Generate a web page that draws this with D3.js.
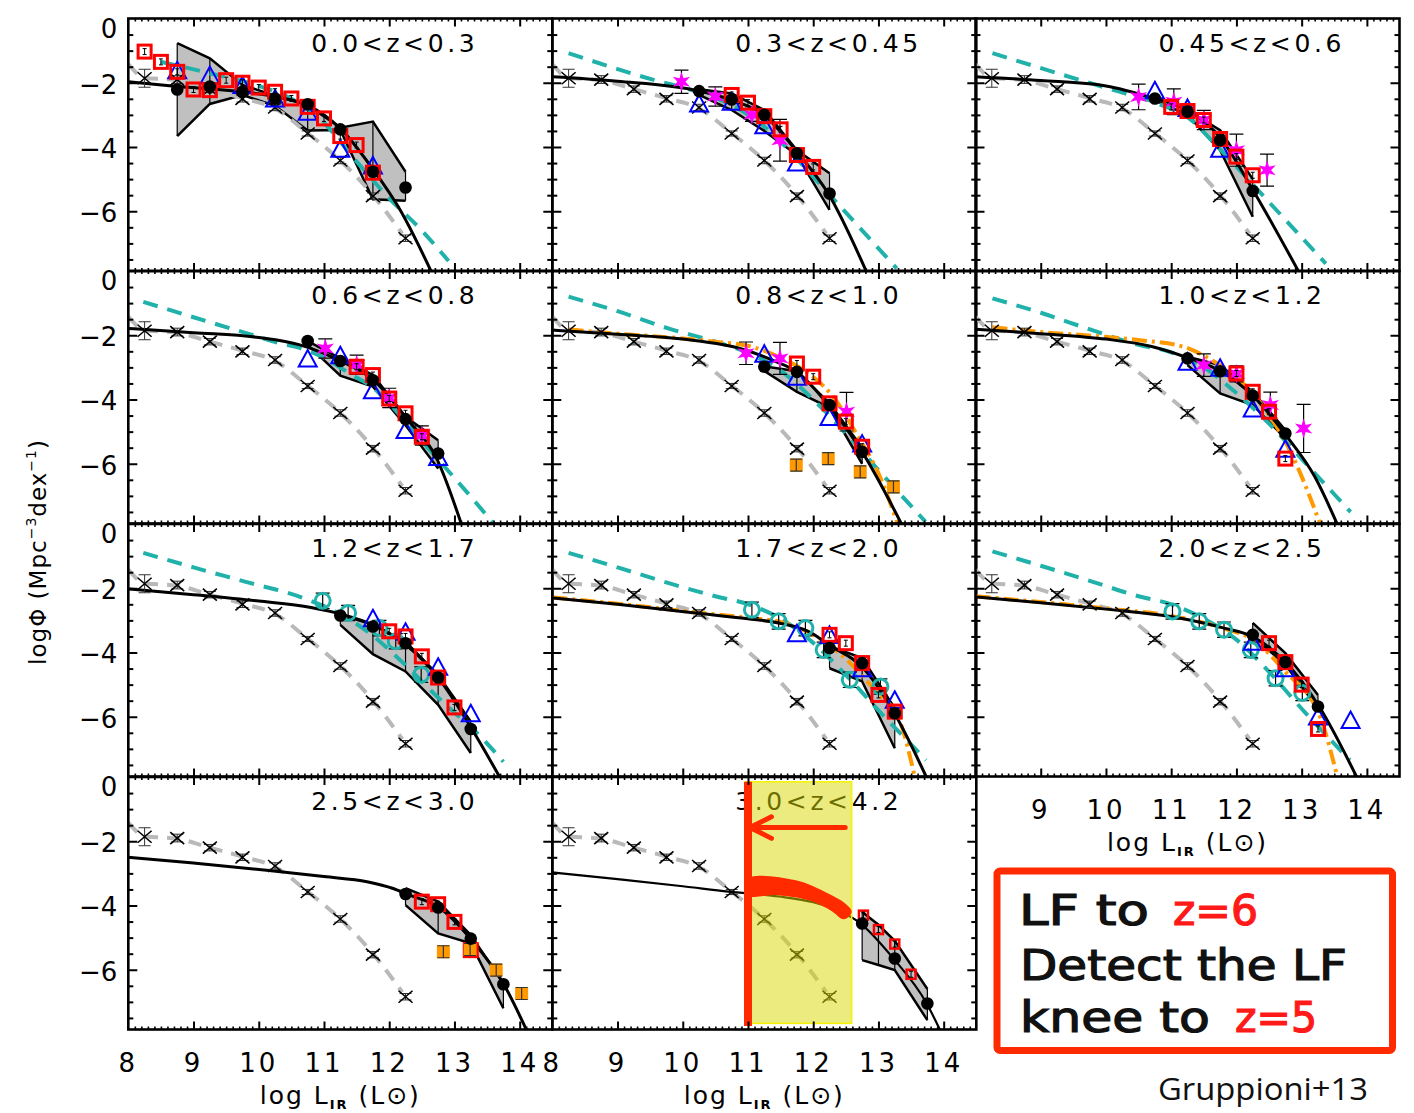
<!DOCTYPE html>
<html><head><meta charset="utf-8">
<script src="https://cdn.jsdelivr.net/npm/d3@7"></script>
<style>body{margin:0;background:#fff}</style>
</head><body><svg id="c" width="1414" height="1113"></svg>
<script>
// ---------------- DATA ----------------
const zLabels=["0.0<z<0.3","0.3<z<0.45","0.45<z<0.6","0.6<z<0.8","0.8<z<1.0","1.0<z<1.2","1.2<z<1.7","1.7<z<2.0","2.0<z<2.5","2.5<z<3.0","3.0<z<4.2"];
const xTickLabels=[8,9,10,11,12,13,14];
const yTickLabels=[0,-2,-4,-6];
// local (z~0) reference LF: crosses + grey dashed model
const localX=[8.25,8.75,9.25,9.75,10.25,10.75,11.25,11.75,12.25];
const localY=[-1.86,-1.9,-2.2,-2.5,-2.77,-3.58,-4.42,-5.53,-6.84];
const localErr=[0.28,0.12,0.1,0.1,0.1,0.08,0.1,0.1,0.1];
const localModel=[[8.0,-1.42],[8.25,-1.84],[8.75,-1.92],[9.25,-2.2],[9.75,-2.48],[10.25,-2.8],[10.75,-3.57],[11.25,-4.42],[11.75,-5.5],[12.2,-6.7]];
// black solid model per panel
const blackModel=[
 [[8.0,-1.97],[8.75,-2.12],[9.75,-2.28],[10.3,-2.45],[10.75,-2.7],[11.25,-3.42],[11.76,-4.72],[12.17,-5.97],[12.65,-7.9]],
 [[8.0,-1.81],[9.0,-1.95],[10.24,-2.25],[10.75,-2.54],[11.24,-3.0],[11.77,-4.2],[12.23,-5.45],[12.82,-7.9]],
 [[8.0,-1.81],[9.0,-1.93],[10.0,-2.1],[10.69,-2.46],[11.25,-2.85],[11.76,-3.73],[12.27,-5.4],[12.96,-7.9]],
 [[8.0,-1.79],[9.0,-1.92],[10.0,-2.07],[10.63,-2.3],[11.25,-2.8],[11.76,-3.4],[12.27,-4.6],[12.73,-5.85],[13.11,-7.9]],
 [[8.0,-1.84],[9.0,-1.97],[10.0,-2.12],[10.96,-2.46],[11.4,-2.8],[11.75,-3.14],[12.23,-4.17],[12.75,-5.63],[13.36,-7.9]],
 [[8.0,-1.81],[9.0,-1.95],[10.0,-2.12],[10.7,-2.35],[11.25,-2.7],[11.76,-3.12],[12.27,-3.92],[12.75,-5.09],[13.2,-6.4],[13.55,-7.9]],
 [[8.0,-2.02],[9.0,-2.2],[10.0,-2.4],[10.8,-2.6],[11.25,-2.8],[11.76,-3.15],[12.26,-3.77],[12.75,-4.78],[13.29,-6.46],[13.7,-7.9]],
 [[8.0,-2.3],[9.0,-2.5],[10.19,-2.77],[11.0,-2.95],[11.47,-3.08],[11.98,-3.4],[12.23,-3.75],[12.75,-4.45],[13.23,-5.84],[13.74,-7.9]],
 [[8.0,-2.27],[9.0,-2.45],[10.0,-2.65],[10.99,-2.88],[11.81,-3.24],[12.24,-3.5],[12.75,-4.3],[13.27,-5.69],[13.85,-7.9]],
 [[8.0,-2.5],[9.0,-2.68],[10.12,-2.9],[11.0,-3.1],[11.66,-3.26],[12.06,-3.47],[12.3,-3.67],[12.75,-4.04],[13.24,-5.02],[13.75,-6.43],[14.11,-7.9]],
 [[8.0,-2.97],[9.0,-3.18],[10.0,-3.4],[10.7,-3.57],[11.47,-3.72],[12.0,-3.9],[12.24,-4.05],[12.69,-4.5],[13.23,-5.65],[13.74,-7.05],[13.95,-7.9]]
];
// teal dashed model per panel
const tealModel=[
 [[8.5,-1.35],[9.2,-1.68],[10.0,-2.1],[10.5,-2.5],[10.9,-3.05],[11.5,-4.45],[12.0,-5.6],[12.5,-6.6],[12.91,-7.55]],
 [[8.25,-1.08],[9.57,-1.92],[10.14,-2.23],[10.8,-2.75],[11.3,-3.45],[11.83,-4.55],[12.28,-5.55],[13.28,-7.78]],
 [[8.26,-1.08],[9.61,-1.92],[10.12,-2.23],[10.8,-2.65],[11.3,-3.15],[11.64,-3.84],[12.52,-5.76],[13.37,-7.63]],
 [[8.23,-0.96],[9.0,-1.44],[9.82,-1.94],[10.33,-2.25],[10.6,-2.38],[11.0,-2.7],[11.4,-3.2],[11.76,-3.65],[12.5,-5.3],[13.24,-7.0],[13.6,-7.86]],
 [[8.25,-0.8],[9.0,-1.25],[9.8,-1.8],[10.5,-2.2],[11.0,-2.55],[11.5,-3.1],[12.0,-4.0],[12.5,-5.05],[13.0,-6.2],[13.72,-7.8]],
 [[8.26,-0.85],[9.0,-1.3],[9.8,-1.85],[10.5,-2.3],[10.95,-2.5],[11.5,-3.0],[12.0,-3.8],[12.5,-4.75],[13.0,-5.85],[13.75,-7.5]],
 [[8.23,-0.9],[9.0,-1.35],[9.8,-1.8],[10.68,-2.3],[11.2,-2.75],[11.7,-3.4],[12.2,-4.3],[12.8,-5.5],[13.44,-6.7],[13.75,-7.4]],
 [[8.25,-0.9],[9.0,-1.35],[9.8,-1.85],[10.5,-2.25],[11.02,-2.51],[11.5,-2.95],[12.0,-3.7],[12.5,-4.7],[13.0,-5.8],[13.73,-7.35]],
 [[8.26,-0.85],[9.0,-1.3],[9.8,-1.8],[10.5,-2.25],[11.0,-2.5],[11.5,-2.95],[12.0,-3.6],[12.5,-4.6],[13.0,-5.75],[13.74,-7.35]],
 null,null
];
// orange dash-dot model
const orangeModel=[null,null,null,null,
 [[8.25,-1.82],[9.0,-1.95],[10.0,-2.1],[10.5,-2.2],[11.06,-2.36],[11.5,-2.7],[12.0,-3.3],[12.3,-3.9],[12.7,-5.2],[13.0,-6.3],[13.3,-7.9]],
 [[8.26,-1.75],[9.0,-1.9],[10.0,-2.05],[10.5,-2.15],[11.19,-2.36],[11.6,-2.75],[12.0,-3.3],[12.4,-4.2],[12.83,-5.63],[13.29,-7.9]],
 null,
 [[8.0,-2.28],[9.0,-2.48],[10.19,-2.75],[11.0,-2.92],[11.5,-3.05],[12.0,-3.45],[12.5,-4.2],[13.0,-5.3],[13.31,-6.04],[13.56,-7.9]],
 [[8.0,-2.25],[9.0,-2.43],[10.0,-2.63],[11.0,-2.86],[11.8,-3.25],[12.25,-3.6],[12.75,-4.6],[13.29,-6.04],[13.55,-7.9]],
 null,null
];
// grey uncertainty band (x, upper, lower)
const bandX=[
 [8.75,9.25,9.75,10.25,10.75,11.25,11.75,12.25],
 [10.25,10.75,11.25,11.75,12.25],
 [10.75,11.25,11.75,12.25],
 [10.75,11.25,11.75,12.25,12.75],
 [11.2,11.75,12.25,12.75],
 [11.25,11.75,12.25,12.75],
 [11.25,11.75,12.25,12.75,13.25],
 [12.25,12.75,13.25],
 [12.25,12.75,13.25],
 [12.25,12.75,13.25,13.75],
 [12.75,13.0,13.25,13.75]
];
const bandHi=[
 [-0.77,-1.24,-2.07,-2.4,-2.7,-3.4,-3.21,-4.77],
 [-2.2,-2.33,-2.85,-4.1,-4.82],
 [-2.45,-2.85,-3.48,-5.0],
 [-2.18,-2.72,-3.24,-4.54,-5.27],
 [-2.95,-3.12,-4.12,-5.5],
 [-2.67,-2.93,-3.76,-4.95],
 [-2.82,-3.14,-3.66,-4.7,-6.15],
 [-3.8,-4.17,-5.73],
 [-3.08,-4.02,-5.32],
 [-3.46,-3.88,-4.92,-6.43],
 [-4.2,-4.6,-5.1,-6.6]
];
const bandLo=[
 [-3.66,-2.66,-2.38,-2.72,-3.49,-3.47,-5.63,-5.67],
 [-2.38,-2.85,-3.5,-4.25,-5.96],
 [-2.55,-3.0,-4.1,-6.17],
 [-2.3,-3.26,-3.6,-4.8,-6.15],
 [-3.05,-3.76,-4.25,-6.0],
 [-2.93,-3.81,-4.17,-5.21],
 [-3.14,-4.05,-4.59,-5.63,-7.13],
 [-4.49,-4.9,-6.98],
 [-3.5,-4.38,-5.74],
 [-3.99,-4.87,-5.18,-7.2],
 [-5.7,-5.85,-6.01,-7.57]
];
const blackDots=[
 [[8.75,-2.21],[9.25,-2.12],[9.75,-2.28],[10.25,-2.49],[10.75,-2.67],[11.25,-3.45],[11.75,-4.77],[12.25,-5.26]],
 [[10.25,-2.26],[10.75,-2.52],[11.25,-3.0],[11.75,-4.2],[12.25,-5.45]],
 [[10.75,-2.49],[11.25,-2.9],[11.75,-3.79],[12.25,-5.37]],
 [[10.75,-2.18],[11.25,-2.8],[11.75,-3.4],[12.25,-4.61],[12.75,-5.68]],
 [[11.25,-2.98],[11.75,-3.14],[12.25,-4.17],[12.75,-5.63]],
 [[11.25,-2.72],[11.75,-3.12],[12.25,-3.88],[12.75,-5.06]],
 [[11.25,-2.85],[11.75,-3.19],[12.25,-3.71],[12.75,-4.78],[13.25,-6.38]],
 [[12.25,-3.86],[12.75,-4.33],[13.25,-5.89]],
 [[12.25,-3.45],[12.75,-4.3],[13.25,-5.68]],
 [[12.25,-3.64],[12.75,-4.06],[13.25,-5.03],[13.75,-6.45]],
 [[12.75,-4.56],[13.25,-5.65],[13.75,-7.05]]
];
const redSquares=[
 [[8.25,-1.03],[8.5,-1.35],[8.75,-1.66],[9.0,-2.21],[9.25,-2.23],[9.5,-1.92],[9.75,-2.0],[10.0,-2.15],[10.25,-2.28],[10.5,-2.49],[10.75,-2.75],[11.0,-3.11],[11.25,-3.66],[11.5,-3.94],[11.75,-4.8]],
 [[10.75,-2.38],[11.0,-2.62],[11.25,-3.04],[11.5,-3.45],[11.75,-4.25],[12.0,-4.62]],
 [[11.0,-2.75],[11.25,-2.88],[11.5,-3.16],[11.75,-3.75],[12.0,-4.3],[12.25,-4.88]],
 [[11.5,-2.98],[11.75,-3.24],[12.0,-3.97],[12.25,-4.43],[12.5,-5.16]],
 [[11.75,-2.88],[12.0,-3.29],[12.25,-4.12],[12.5,-4.69],[12.75,-5.47]],
 [[12.0,-3.19],[12.25,-3.76],[12.5,-4.38],[12.75,-5.84]],
 [[12.0,-3.34],[12.25,-3.5],[12.5,-4.12],[12.75,-4.78],[13.0,-5.71]],
 [[12.25,-3.45],[12.5,-3.71],[12.75,-4.33],[13.0,-5.32],[13.25,-5.84]],
 [[12.5,-3.71],[12.75,-4.3],[13.0,-5.0],[13.25,-6.38]],
 [[12.5,-3.88],[12.75,-3.96],[13.0,-4.51],[13.25,-5.39]],
 [[12.77,-4.3],[13.0,-4.75],[13.25,-5.2],[13.5,-6.14]]
];
const blueTriangles=[
 [[8.75,-1.66],[9.25,-1.81],[9.75,-2.12],[10.25,-2.54],[10.75,-2.95],[11.25,-4.1],[11.75,-4.62]],
 [[10.25,-2.69],[10.75,-2.64],[11.25,-3.37],[11.75,-4.53]],
 [[10.75,-2.28],[11.25,-2.83],[11.75,-4.1]],
 [[10.75,-2.77],[11.25,-2.67],[11.75,-3.76],[12.25,-5.0],[12.75,-5.84]],
 [[11.25,-2.62],[11.75,-3.34],[12.25,-4.59],[12.75,-5.42]],
 [[11.25,-2.87],[11.75,-3.06],[12.25,-4.33],[12.75,-5.58]],
 [[11.75,-2.98],[12.25,-3.4],[12.75,-4.49],[13.25,-5.94]],
 [[11.75,-3.45],[12.25,-3.5],[12.75,-4.54],[13.25,-5.52]],
 [[12.25,-3.71],[12.75,-4.54],[13.25,-6.04],[13.75,-6.15]],
 [],[]
];
const magentaStars=[[],
 [[9.98,-1.97],[10.5,-2.43],[11.06,-3.0],[11.49,-3.79]],
 [[10.5,-2.44],[11.04,-2.59],[11.5,-3.16],[12.0,-4.1],[12.47,-4.72]],
 [[11.02,-2.41],[11.5,-2.92],[12.0,-3.95],[12.5,-5.12]],
 [[10.97,-2.56],[11.49,-2.72],[12.51,-4.38]],
 [[11.5,-2.93],[12.0,-3.2],[12.52,-4.17],[13.03,-4.9]],
 [],[],[],[],[]
];
const magentaErr=[[],[0.36,0.3,0.2,0.65],[0.4,0.4,0.3,0.5,0.5],[0.3,0.3,0.3,0.3],[0.35,0.5,0.6],[0.35,0.25,0.4,0.75],[],[],[],[],[]];
const tealCircles=[[],[],[],[],[],[],
 [[10.98,-2.39],[11.37,-2.77],[11.85,-3.24],[12.1,-3.65],[12.49,-4.69]],
 [[11.06,-2.67],[11.47,-3.03],[11.88,-3.24],[12.16,-3.92],[12.56,-4.85],[13.03,-5.06]],
 [[11.02,-2.72],[11.43,-3.03],[11.81,-3.29],[12.22,-3.92],[12.6,-4.8],[13.01,-5.26]],
 [],[]
];
const orangeSquares=[[],[],[],[],
 [[11.74,-6.04],[12.23,-5.84],[12.72,-6.25],[13.23,-6.72]],
 [],[],[],[],
 [[12.83,-5.44],[13.24,-5.37],[13.64,-6.01],[14.03,-6.74]],
 []
];
// annotation in the 3.0<z<4.2 panel (data coordinates)
const highlightBox=[[10.96,-0.15],[12.59,-7.67]];
const redBar=[[11.0,-0.15],[11.0,-7.75]];
const redArrow=[[12.49,-1.57],[11.06,-1.57]];
const redArrowHead=[[11.36,-1.24],[11.03,-1.57],[11.36,-1.91]];
const kneeUpper=[[11.0,-3.16],[11.72,-3.21],[12.23,-3.63],[12.49,-3.94],[12.59,-4.2]];
const kneeLower=[[12.47,-4.43],[12.28,-4.17],[11.97,-3.86],[11.46,-3.68],[11.0,-3.68]];

// ---------------- LAYOUT ----------------
const svg=d3.select("#c");
const defs=svg.append("defs");
const colX=[128.3,552.3,975.5], rowY=[18.5,271,524,777];
const PW=424, PH=252.5;
const FONT="DejaVu Sans";
const RED="#ff0000", BLUE="#0000ff", MAG="#ff00ff", TEAL="#20b2aa", ORG="#ff9900", GREY="#b9b9b9";
const ANN="#ff2a00";

function starPath(R,r){
  const p=[];
  for(let k=0;k<12;k++){const a=k*Math.PI/6-Math.PI/2, rr=k%2?r:R; p.push([rr*Math.cos(a),rr*Math.sin(a)]);}
  return "M"+p.map(d=>d.join(",")).join("L")+"Z";
}

for(let i=0;i<11;i++){
  const col=i%3,row=Math.floor(i/3);
  const x0=colX[col],y0=rowY[row];
  const x=d3.scaleLinear().domain([8,14.5]).range([x0,x0+PW]);
  const y=d3.scaleLinear().domain([-7.86,0]).range([y0+PH,y0]);
  defs.append("clipPath").attr("id","cp"+i).append("rect").attr("x",x0).attr("y",y0).attr("width",PW).attr("height",PH);
  const g=svg.append("g").attr("clip-path","url(#cp"+i+")");
  const line=d3.line().x(d=>x(d[0])).y(d=>y(d[1])).curve(d3.curveMonotoneX);
  const lineL=d3.line().x(d=>x(d[0])).y(d=>y(d[1]));

  // redshift label
  g.append("text").attr("x",x0+183).attr("y",y0+33).attr("font-family",FONT).attr("font-size",25)
   .attr("letter-spacing",3.6).attr("fill","#000").text(zLabels[i]);

  // band
  const bx=bandX[i], bh=bandHi[i], bl=bandLo[i];
  const bp=bx.map((v,k)=>[v,bh[k],bl[k]]);
  g.append("path").attr("d",d3.area().x(d=>x(d[0])).y0(d=>y(d[2])).y1(d=>y(d[1]))(bp)).attr("fill","#c0c0c0").attr("stroke","none");
  bp.forEach(d=>g.append("line").attr("x1",x(d[0])).attr("x2",x(d[0])).attr("y1",y(d[1])).attr("y2",y(d[2])).attr("stroke","#000").attr("stroke-width",1.2));
  g.append("path").attr("d",lineL(bp.map(d=>[d[0],d[1]]))).attr("fill","none").attr("stroke","#000").attr("stroke-width",2.5);
  g.append("path").attr("d",lineL(bp.map(d=>[d[0],d[2]]))).attr("fill","none").attr("stroke","#000").attr("stroke-width",2.5);

  // grey local model
  g.append("path").attr("d",line(localModel)).attr("fill","none").attr("stroke",GREY).attr("stroke-width",4).attr("stroke-dasharray","13,9");
  // teal model
  if(tealModel[i]) g.append("path").attr("d",line(tealModel[i])).attr("fill","none").attr("stroke",TEAL).attr("stroke-width",4).attr("stroke-dasharray","15,10");
  // orange model
  if(orangeModel[i]) g.append("path").attr("d",line(orangeModel[i])).attr("fill","none").attr("stroke",ORG).attr("stroke-width",4).attr("stroke-dasharray","15,5,3,5");
  // black model
  g.append("path").attr("d",line(blackModel[i])).attr("fill","none").attr("stroke","#000").attr("stroke-width",i===10?2.2:3);

  // local crosses
  localX.forEach((vx,k)=>{
    const cx=x(vx), cy=y(localY[k]), e=Math.abs(y(localY[k]+localErr[k])-cy);
    g.append("line").attr("x1",cx).attr("x2",cx).attr("y1",cy-e).attr("y2",cy+e).attr("stroke","#333").attr("stroke-width",1);
    [-1,1].forEach(s=>g.append("line").attr("x1",cx-6).attr("x2",cx+6).attr("y1",cy+s*e).attr("y2",cy+s*e).attr("stroke","#333").attr("stroke-width",1));
    g.append("path").attr("d",`M${cx-7},${cy-6}L${cx+7},${cy+6}M${cx-7},${cy+6}L${cx+7},${cy-6}`).attr("stroke","#000").attr("stroke-width",1.6);
  });

  // teal circles
  tealCircles[i].forEach(d=>{
    const cx=x(d[0]),cy=y(d[1]),e=Math.abs(y(d[1]+0.24)-cy);
    g.append("line").attr("x1",cx).attr("x2",cx).attr("y1",cy-e).attr("y2",cy+e).attr("stroke","#000").attr("stroke-width",1.2);
    [-1,1].forEach(s=>g.append("line").attr("x1",cx-7).attr("x2",cx+7).attr("y1",cy+s*e).attr("y2",cy+s*e).attr("stroke","#000").attr("stroke-width",1.2));
    g.append("circle").attr("cx",cx).attr("cy",cy).attr("r",7.5).attr("fill","none").attr("stroke",TEAL).attr("stroke-width",3);
  });
  // blue triangles
  blueTriangles[i].forEach(d=>{
    g.append("path").attr("transform",`translate(${x(d[0])},${y(d[1])})`).attr("d","M0,-10L9,6.5L-9,6.5Z").attr("fill","none").attr("stroke",BLUE).attr("stroke-width",2);
  });
  // magenta stars
  magentaStars[i].forEach((d,k)=>{
    const cx=x(d[0]),cy=y(d[1]),e=Math.abs(y(d[1]+magentaErr[i][k])-cy);
    g.append("line").attr("x1",cx).attr("x2",cx).attr("y1",cy-e).attr("y2",cy+e).attr("stroke","#000").attr("stroke-width",1.2);
    [-1,1].forEach(s=>g.append("line").attr("x1",cx-7).attr("x2",cx+7).attr("y1",cy+s*e).attr("y2",cy+s*e).attr("stroke","#000").attr("stroke-width",1.2));
    g.append("path").attr("transform",`translate(${cx},${cy})`).attr("d",starPath(10,4)).attr("fill",MAG);
  });
  // red squares
  const sq=i===10?9:13;
  redSquares[i].forEach(d=>{
    const cx=x(d[0]),cy=y(d[1]);
    g.append("rect").attr("x",cx-sq/2).attr("y",cy-sq/2).attr("width",sq).attr("height",sq).attr("fill","none").attr("stroke",RED).attr("stroke-width",i===10?2.5:3);
    g.append("path").attr("d",`M${cx},${cy-3}V${cy+3}M${cx-2},${cy-3}H${cx+2}M${cx-2},${cy+3}H${cx+2}`).attr("stroke","#000").attr("stroke-width",1);
  });
  // orange squares
  orangeSquares[i].forEach(d=>{
    const cx=x(d[0]),cy=y(d[1]);
    g.append("rect").attr("x",cx-6.5).attr("y",cy-6.5).attr("width",13).attr("height",13).attr("fill",ORG);
    g.append("path").attr("d",`M${cx},${cy-6}V${cy+6}M${cx-6},${cy-6}H${cx+6}M${cx-6},${cy+6}H${cx+6}`).attr("stroke","#333").attr("stroke-width",1.2);
  });
  // black dots
  blackDots[i].forEach(d=>g.append("circle").attr("cx",x(d[0])).attr("cy",y(d[1])).attr("r",6.3).attr("fill","#000"));

  // annotation (last panel)
  if(i===10){
    g.append("rect").attr("x",x(highlightBox[0][0])).attr("y",y(highlightBox[0][1]))
     .attr("width",x(highlightBox[1][0])-x(highlightBox[0][0])).attr("height",y(highlightBox[1][1])-y(highlightBox[0][1]))
     .attr("fill","#d8d800").attr("fill-opacity",0.5).attr("stroke","#f4f400").attr("stroke-width",1.5);
    g.append("path").attr("d",d3.line().x(d=>x(d[0])).y(d=>y(d[1])).curve(d3.curveCatmullRomClosed)(kneeUpper.concat(kneeLower))).attr("fill",ANN);
    g.append("path").attr("d",lineL(redBar)).attr("stroke",ANN).attr("stroke-width",8);
    g.append("path").attr("d",lineL(redArrow)).attr("stroke",ANN).attr("stroke-width",5).attr("stroke-linecap","round");
    g.append("path").attr("d",lineL(redArrowHead)).attr("fill","none").attr("stroke",ANN).attr("stroke-width",5).attr("stroke-linecap","round").attr("stroke-linejoin","round");
  }

  // axes / ticks
  const ax=svg.append("g");
  const minorX=d3.range(81,145).map(v=>v/10).filter(v=>Math.abs(v-Math.round(v))>1e-6);
  const majorX=d3.range(9,15);
  const minorY=d3.range(-15,0).map(v=>v/2).filter(v=>v%2!==0);
  const majorY=[-2,-4,-6];
  const tick=(sel,w)=>{sel.select(".domain").remove();sel.selectAll("line").attr("stroke","#000").attr("stroke-width",w);};
  ax.append("g").attr("transform",`translate(0,${y0+PH})`).call(d3.axisBottom(x).tickValues(minorX).tickSize(-3).tickFormat("")).call(s=>tick(s,1.6));
  ax.append("g").attr("transform",`translate(0,${y0+PH})`).call(d3.axisBottom(x).tickValues(majorX).tickSize(-8).tickFormat("")).call(s=>tick(s,2));
  ax.append("g").attr("transform",`translate(0,${y0})`).call(d3.axisTop(x).tickValues(minorX).tickSize(-3).tickFormat("")).call(s=>tick(s,1.6));
  ax.append("g").attr("transform",`translate(0,${y0})`).call(d3.axisTop(x).tickValues(majorX).tickSize(-8).tickFormat("")).call(s=>tick(s,2));
  ax.append("g").attr("transform",`translate(${x0},0)`).call(d3.axisLeft(y).tickValues(minorY).tickSize(-5).tickFormat("")).call(s=>tick(s,2));
  ax.append("g").attr("transform",`translate(${x0},0)`).call(d3.axisLeft(y).tickValues(majorY).tickSize(-9).tickFormat("")).call(s=>tick(s,2));
  ax.append("g").attr("transform",`translate(${x0+PW},0)`).call(d3.axisRight(y).tickValues(minorY).tickSize(-5).tickFormat("")).call(s=>tick(s,2));
  ax.append("g").attr("transform",`translate(${x0+PW},0)`).call(d3.axisRight(y).tickValues(majorY).tickSize(-9).tickFormat("")).call(s=>tick(s,2));
  ax.append("rect").attr("x",x0).attr("y",y0).attr("width",PW).attr("height",PH).attr("fill","none").attr("stroke","#000").attr("stroke-width",2.6);

  // y tick labels (first column)
  if(col===0){
    yTickLabels.forEach(v=>{
      ax.append("text").attr("x",x0-11).attr("y",y(v)+(v===0?10:2)).attr("dominant-baseline","central")
        .attr("text-anchor","end").attr("font-family",FONT).attr("font-size",26).text(v===0?"0":"\u2212"+Math.abs(v));
    });
  }
  // x tick labels + title
  const xlab=(vals,base)=>{
    vals.forEach(v=>ax.append("text").attr("x",x(v)).attr("y",base).attr("text-anchor","middle").attr("font-family",FONT).attr("font-size",26).attr("letter-spacing",3).text(v));
    const t=ax.append("text").attr("x",x0+PW/2).attr("y",base+32).attr("text-anchor","middle").attr("font-family",FONT).attr("font-size",25).attr("letter-spacing",2);
    t.append("tspan").text("log  L");
    t.append("tspan").attr("font-size",13).attr("font-weight","bold").attr("dy",5).text("IR");
    t.append("tspan").attr("dy",-5).text(" (L\u2299)");
  };
  if(row===3) xlab(xTickLabels,y0+PH+42);
  if(i===8) xlab(xTickLabels.slice(1),y0+PH+42);
}

// y axis title
const yt=svg.append("text").attr("transform","translate(46,552) rotate(-90)").attr("text-anchor","middle").attr("font-family",FONT).attr("font-size",23).attr("letter-spacing",1);
yt.append("tspan").text("log\u03A6 (Mpc");
yt.append("tspan").attr("font-size",14).attr("dy",-10).text("\u22123");
yt.append("tspan").attr("dy",10).text("dex");
yt.append("tspan").attr("font-size",14).attr("dy",-10).text("\u22121");
yt.append("tspan").attr("dy",10).text(")");

// annotation box
svg.append("rect").attr("x",997).attr("y",871).attr("width",395.5).attr("height",179.5).attr("rx",3).attr("fill","#fff").attr("stroke",ANN).attr("stroke-width",7);
const hand=(txt,xa,xb,yb,col)=>svg.append("text").attr("x",xa).attr("y",yb).attr("font-family",FONT).attr("font-size",42)
  .attr("stroke",col).attr("stroke-width",1.2)
  .attr("textLength",xb-xa).attr("lengthAdjust","spacingAndGlyphs").attr("fill",col).text(txt);
hand("LF to",1019,1149,925,"#111");
hand("z=6",1173,1258,925,"#ff1a1a");
hand("Detect the LF",1020,1347,980,"#111");
hand("knee to",1020,1210,1032,"#111");
hand("z=5",1235,1317,1032,"#ff1a1a");
svg.append("text").attr("x",1158).attr("y",1100).attr("font-family","Open Sans").attr("font-size",31)
  .attr("textLength",210).attr("lengthAdjust","spacingAndGlyphs").attr("fill","#111").text("Gruppioni+13");
</script></body></html>
